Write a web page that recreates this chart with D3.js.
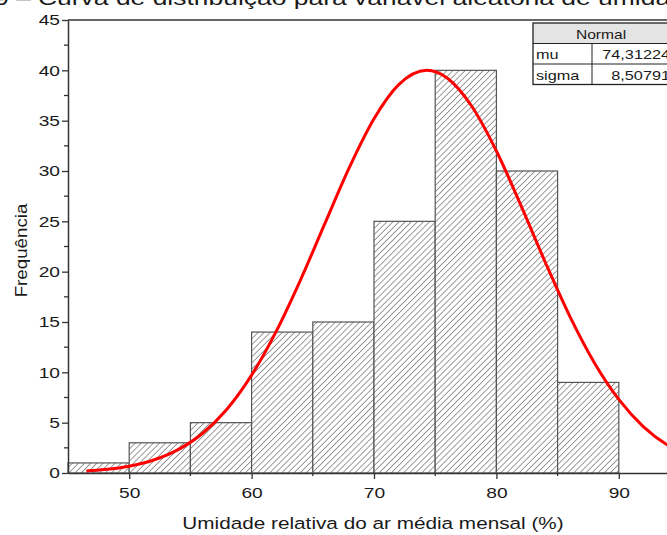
<!DOCTYPE html>
<html>
<head>
<meta charset="utf-8">
<script src="https://cdn.jsdelivr.net/npm/d3@7"></script>
<style>
   body { margin: 0; background: #fff; }
   svg { display: block; font-family: "Liberation Sans", Arial, sans-serif; }
</style>
</head>
<body>
<div id="chart"></div>
<script>
//--------------------------------------------------------------
// DATA
//--------------------------------------------------------------
// histogram bins (start, end) and counts
var binStarts = [45, 50, 55, 60, 65, 70, 75, 80, 85];
var binEnds = [50, 55, 60, 65, 70, 75, 80, 85, 90];
var counts = [1, 3, 5, 14, 15, 25, 40, 30, 9];

// red fitted curve
var curveX = [46.5, 48, 50, 52, 54, 56, 58, 60, 62, 64, 66, 68, 70, 72, 74.3, 76, 78, 80, 82, 84, 86, 88, 90, 92, 94, 96];
var curveY = [0.19, 0.34, 0.67, 1.29, 2.32, 3.95, 6.36, 9.72, 14.04, 19.19, 24.82, 30.38, 35.18, 38.55, 40, 39.22, 36.41, 31.99, 26.59, 20.91, 15.56, 10.96, 7.31, 4.61, 2.75, 1.55];

// ticks
var xTicks = [50, 60, 70, 80, 90];
var xMinorTicks = [55, 65, 75, 85, 95];
var yTicks = [0, 5, 10, 15, 20, 25, 30, 35, 40, 45];
var yMinorTicks = [2.5, 7.5, 12.5, 17.5, 22.5, 27.5, 32.5, 37.5, 42.5];

// fit table
var tableTitle = "Normal";
var tableNames = ["mu", "sigma"];
var tableValues = ["74,31224", "8,50791"];

var titleLead = "Figura 9 –";
var titleText = "Curva de distribuição para variável aleatória de umidade relativa";
var xTitle = "Umidade relativa do ar média mensal (%)";
var yTitle = "Frequência";
//--------------------------------------------------------------

//--------------------------------------------------------------
// SIZE
//--------------------------------------------------------------
var width = 667;
var height = 535;
var plot = { left: 68, top: 20, bottom: 473 };

// the source picture is a bit stretched sideways, so text is widened
var stretch = 1.28;

var svg = d3.select("#chart").append("svg")
   .attr("width", width)
   .attr("height", height);

var xScale = d3.scaleLinear()
   .domain([45, 100])
   .range([plot.left, plot.left + 55 * 12.24]);

var yScale = d3.scaleLinear()
   .domain([0, 45])
   .range([plot.bottom, plot.top]);

// hatch pattern for bars
var defs = svg.append("defs");
var pattern = defs.append("pattern")
   .attr("id", "hatch")
   .attr("patternUnits", "userSpaceOnUse")
   .attr("width", 4.3)
   .attr("height", 4.3)
   .attr("patternTransform", "rotate(45)");
pattern.append("rect")
   .attr("width", 4.3).attr("height", 4.3)
   .attr("fill", "#fff");
pattern.append("line")
   .attr("x1", 0).attr("y1", 0)
   .attr("x2", 0).attr("y2", 4.3)
   .attr("stroke", "#666")
   .attr("stroke-width", 1.3);

// place a text widened sideways
function wideText(g, x, y, txt, size, sx, anchor) {
   return g.append("text")
      .attr("transform", `translate(${x}, ${y}) scale(${sx}, 1)`)
      .attr("text-anchor", anchor || "start")
      .attr("font-size", size)
      .attr("fill", "#1a1a1a")
      .text(txt);
};

//--------------------------------------------------------------
// TITLE (cut off at top of image)
//--------------------------------------------------------------
wideText(svg, 31, 5, titleLead, 21, 1.26, "end");
wideText(svg, 38, 5, titleText, 21, 1.26);

//--------------------------------------------------------------
// BARS
//--------------------------------------------------------------
svg.append("g").selectAll("rect")
   .data(counts)
   .enter()
   .append("rect")
   .attr("x", (d, i) => xScale(binStarts[i]))
   .attr("y", d => yScale(d))
   .attr("width", (d, i) => xScale(binEnds[i]) - xScale(binStarts[i]))
   .attr("height", d => plot.bottom - yScale(d))
   .attr("fill", "url(#hatch)")
   .attr("stroke", "#555")
   .attr("stroke-width", 1.2);

//--------------------------------------------------------------
// CURVE
//--------------------------------------------------------------
var line = d3.line()
   .x(d => xScale(d[0]))
   .y(d => yScale(d[1]))
   .curve(d3.curveMonotoneX);

svg.append("path")
   .datum(curveX.map((x, i) => [x, curveY[i]]))
   .attr("d", line)
   .attr("fill", "none")
   .attr("stroke", "#f00")
   .attr("stroke-width", 3);

//--------------------------------------------------------------
// AXES
//--------------------------------------------------------------
var axisColor = "#333";

// bottom axis
var xAxis = svg.append("g")
   .attr("transform", `translate(0, ${plot.bottom})`)
   .call(d3.axisBottom(xScale).tickValues(xTicks).tickSize(6).tickPadding(8).tickSizeOuter(0));
xAxis.select(".domain").attr("stroke", axisColor).attr("stroke-width", 1.5);
xAxis.selectAll(".tick line").attr("stroke", axisColor).attr("stroke-width", 1.3);
xAxis.selectAll("text")
   .attr("font-size", 15).attr("fill", "#1a1a1a").attr("font-family", "Liberation Sans, Arial")
   .attr("transform", `scale(${stretch}, 1)`);
xAxis.append("g").selectAll("line")
   .data(xMinorTicks)
   .enter()
   .append("line")
   .attr("x1", d => xScale(d)).attr("x2", d => xScale(d))
   .attr("y1", 0).attr("y2", 3)
   .attr("stroke", axisColor).attr("stroke-width", 1.3);

// left axis
var yAxis = svg.append("g")
   .attr("transform", `translate(${plot.left}, 0)`)
   .call(d3.axisLeft(yScale).tickValues(yTicks).tickSize(6).tickSizeOuter(0));
yAxis.select(".domain").attr("stroke", axisColor).attr("stroke-width", 1.5);
yAxis.selectAll(".tick line").attr("stroke", axisColor).attr("stroke-width", 1.3);
yAxis.selectAll("text")
   .attr("font-size", 15).attr("fill", "#1a1a1a").attr("font-family", "Liberation Sans, Arial")
   .attr("x", -8 / stretch)
   .attr("transform", `scale(${stretch}, 1)`);
yAxis.append("g").selectAll("line")
   .data(yMinorTicks)
   .enter()
   .append("line")
   .attr("x1", 0).attr("x2", -4)
   .attr("y1", d => yScale(d)).attr("y2", d => yScale(d))
   .attr("stroke", axisColor).attr("stroke-width", 1.3);

// top frame line
svg.append("line")
   .attr("x1", plot.left).attr("x2", width)
   .attr("y1", yScale(45)).attr("y2", yScale(45))
   .attr("stroke", axisColor).attr("stroke-width", 1.5);

// axis titles
wideText(svg, 373, 529, xTitle, 17, 1.22, "middle");

svg.append("text")
   .attr("transform", `translate(27, ${(plot.top + plot.bottom) / 2 + 4}) rotate(-90) scale(1.17, 1)`)
   .attr("text-anchor", "middle")
   .attr("font-size", 16)
   .attr("fill", "#1a1a1a")
   .text(yTitle);

//--------------------------------------------------------------
// FIT TABLE
//--------------------------------------------------------------
var table = { left: 533, mid: 592, right: 672, top: 23, rowH: 20.5 };
var tableG = svg.append("g");

tableG.append("rect")
   .attr("x", table.left).attr("y", table.top)
   .attr("width", table.right - table.left).attr("height", table.rowH)
   .attr("fill", "#e4e4e4");

tableG.append("rect")
   .attr("x", table.left).attr("y", table.top)
   .attr("width", table.right - table.left).attr("height", table.rowH * 3)
   .attr("fill", "none")
   .attr("stroke", "#222").attr("stroke-width", 1.3);

[1, 2].forEach(r => {
   tableG.append("line")
      .attr("x1", table.left).attr("x2", table.right)
      .attr("y1", table.top + table.rowH * r).attr("y2", table.top + table.rowH * r)
      .attr("stroke", "#222").attr("stroke-width", 1);
});
tableG.append("line")
   .attr("x1", table.mid).attr("x2", table.mid)
   .attr("y1", table.top + table.rowH).attr("y2", table.top + table.rowH * 3)
   .attr("stroke", "#222").attr("stroke-width", 1);

wideText(tableG, 601, table.top + table.rowH - 5, tableTitle, 13, 1.2, "middle");

tableNames.forEach((name, i) => {
   var y = table.top + table.rowH * (i + 2) - 5;
   wideText(tableG, table.left + 3, y, name, 13, 1.25);
   wideText(tableG, table.right - 2, y, tableValues[i], 13, 1.25, "end");
});
</script>
</body>
</html>
